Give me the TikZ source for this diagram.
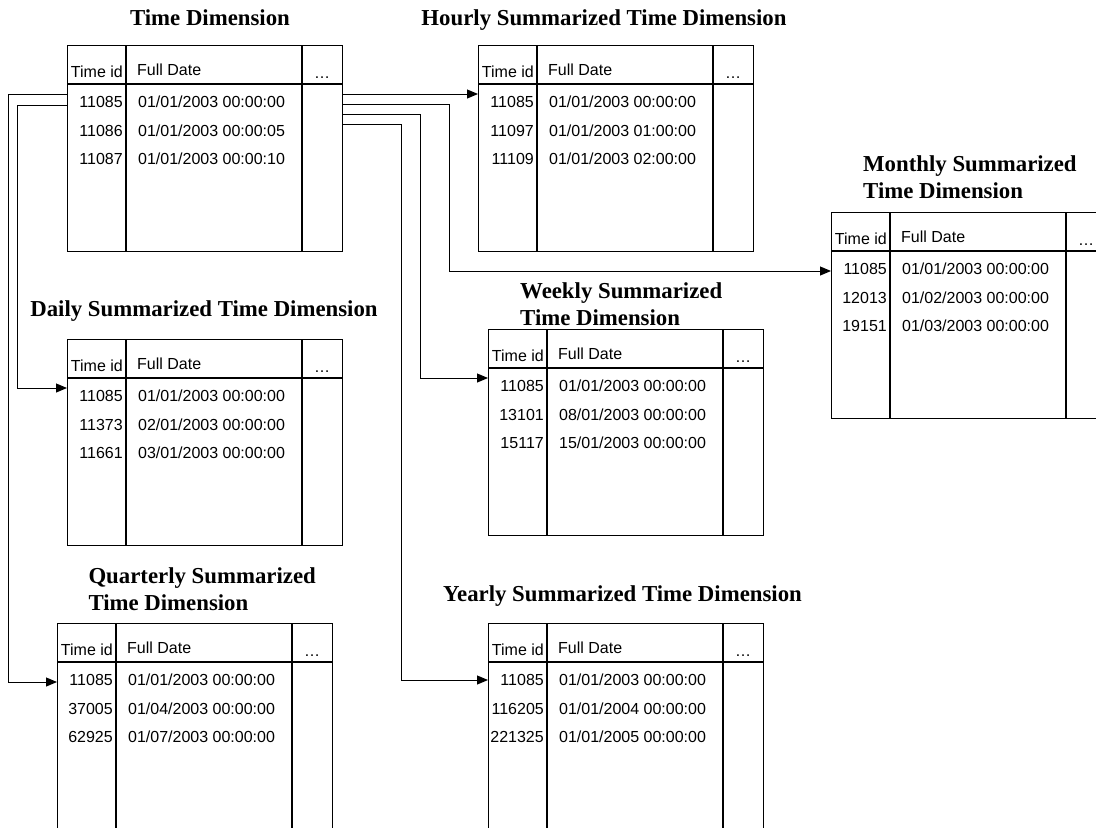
\documentclass[tikz,border=0pt]{standalone}
\usepackage{fontspec}
\setmainfont{Liberation Serif}
\setsansfont{Liberation Sans}
\usetikzlibrary{arrows.meta}
\tikzstyle{dimBox} = [rectangle, draw=black, line width=1.2pt, minimum width=275pt, minimum height=205.5pt, inner sep=0pt]
\tikzstyle{dimLine} = [draw=black, line width=1.2pt]
\tikzstyle{dimCell} = [inner sep=0pt, font=\sffamily\fontsize{16}{19}\selectfont]
\tikzstyle{dimTitle} = [inner sep=0pt, align=left, font=\bfseries\fontsize{22.8}{26.8}\selectfont]
\tikzstyle{dimArrow} = [line width=1pt, ->, >={Triangle[length=11pt, width=9pt]}]
% one dimension table: name, left, top, then three id/date rows
\newcommand{\dimTable}[9]{%
    \node (#1) [dimBox, anchor=north west] at (#2,#3) {};
    \draw [dimLine] ([yshift=-39pt]#1.north west) -- ([yshift=-39pt]#1.north east);
    \draw [dimLine] ([xshift=59pt]#1.north west) -- ([xshift=59pt]#1.south west);
    \draw [dimLine] ([xshift=235pt]#1.north west) -- ([xshift=235pt]#1.south west);
    \node (#1-hid) [dimCell, anchor=base east] at ([xshift=56pt, yshift=-32pt]#1.north west) {Time id};
    \node (#1-hdate) [dimCell, anchor=base west] at ([xshift=70pt, yshift=-30pt]#1.north west) {Full Date};
    \node (#1-hmore) [dimCell, anchor=base] at ([xshift=255pt, yshift=-33pt]#1.north west) {\dots};
    \node (#1-id1) [dimCell, anchor=base east] at ([xshift=56pt, yshift=-62.5pt]#1.north west) {#4};
    \node (#1-date1) [dimCell, anchor=base west] at ([xshift=71pt, yshift=-62.5pt]#1.north west) {#5};
    \node (#1-id2) [dimCell, anchor=base east] at ([xshift=56pt, yshift=-91pt]#1.north west) {#6};
    \node (#1-date2) [dimCell, anchor=base west] at ([xshift=71pt, yshift=-91pt]#1.north west) {#7};
    \node (#1-id3) [dimCell, anchor=base east] at ([xshift=56pt, yshift=-119.5pt]#1.north west) {#8};
    \node (#1-date3) [dimCell, anchor=base west] at ([xshift=71pt, yshift=-119.5pt]#1.north west) {#9};
}

\begin{document}
\begin{tikzpicture}[x=1pt, y=-1pt]
    \useasboundingbox (0,0) rectangle (1096,828);
    \clip (0,0) rectangle (1096,828);

    % titles
    \node (timeT) [dimTitle, anchor=base] at (210,25) {Time Dimension};
    \node (hourT) [dimTitle, anchor=base] at (604,25) {Hourly Summarized Time Dimension};
    \node (monthT) [dimTitle, anchor=base west] at (863,198.3) {Monthly Summarized\\Time Dimension};
    \node (dayT) [dimTitle, anchor=base] at (204,316.7) {Daily Summarized Time Dimension};
    \node (weekT) [dimTitle, anchor=base west] at (520,325.7) {Weekly Summarized\\Time Dimension};
    \node (quartT) [dimTitle, anchor=base west] at (88.3,610) {Quarterly Summarized\\Time Dimension};
    \node (yearT) [dimTitle, anchor=base] at (622.5,601.7) {Yearly Summarized Time Dimension};

    % tables
    \dimTable{time}{67}{45}{11085}{01/01/2003 00:00:00}{11086}{01/01/2003 00:00:05}{11087}{01/01/2003 00:00:10}
    \dimTable{hour}{478}{45}{11085}{01/01/2003 00:00:00}{11097}{01/01/2003 01:00:00}{11109}{01/01/2003 02:00:00}
    \dimTable{month}{831}{212}{11085}{01/01/2003 00:00:00}{12013}{01/02/2003 00:00:00}{19151}{01/03/2003 00:00:00}
    \dimTable{day}{67}{339}{11085}{01/01/2003 00:00:00}{11373}{02/01/2003 00:00:00}{11661}{03/01/2003 00:00:00}
    \dimTable{week}{488}{329}{11085}{01/01/2003 00:00:00}{13101}{08/01/2003 00:00:00}{15117}{15/01/2003 00:00:00}
    \dimTable{quart}{57}{623}{11085}{01/01/2003 00:00:00}{37005}{01/04/2003 00:00:00}{62925}{01/07/2003 00:00:00}
    \dimTable{year}{488}{623}{11085}{01/01/2003 00:00:00}{116205}{01/01/2004 00:00:00}{221325}{01/01/2005 00:00:00}

    % connectors
    \draw [dimArrow] ([yshift=-49pt]time.north east) -- ([yshift=-49pt]hour.north west);
    \draw [dimArrow] ([yshift=-59pt]time.north east) -- ++(106,0) |- ([yshift=-59pt]month.north west);
    \draw [dimArrow] ([yshift=-69pt]time.north east) -- ++(77,0) |- ([yshift=-49pt]week.north west);
    \draw [dimArrow] ([yshift=-79pt]time.north east) -- ++(58,0) |- ([yshift=-57pt]year.north west);
    \draw [dimArrow] ([yshift=-60pt]time.north west) -- ++(-50,0) |- ([yshift=-49pt]day.north west);
    \draw [dimArrow] ([yshift=-49pt]time.north west) -- ++(-59,0) |- ([yshift=-59pt]quart.north west);
\end{tikzpicture}
\end{document}
